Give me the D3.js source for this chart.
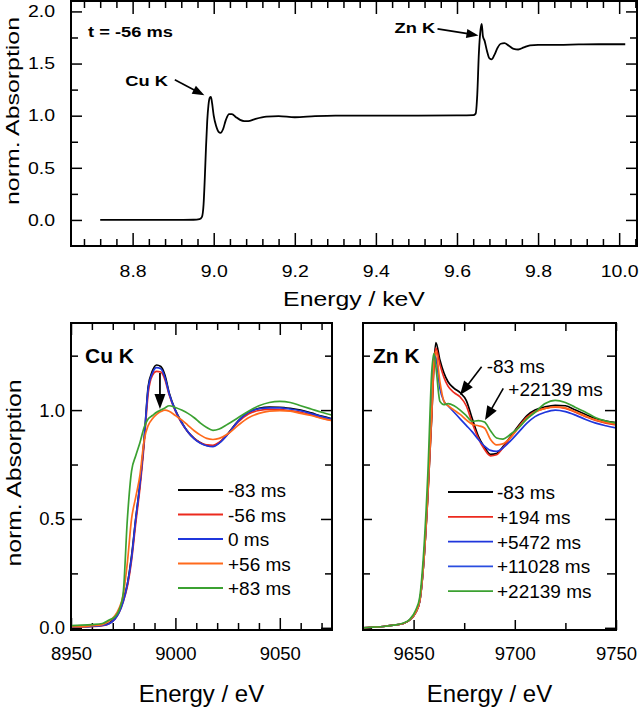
<!DOCTYPE html>
<html><head><meta charset="utf-8">
<script src="https://cdn.jsdelivr.net/npm/d3@7"></script>
<style>
body{margin:0;background:#fff}
svg{display:block}
</style>
</head><body>
<svg id="c" width="640" height="709"></svg>
<script>
// ---------------- DATA ----------------
// top panel: t = -56 ms, full spectrum (keV)
const topEnergy = [8.72, 8.80, 8.90, 8.95, 8.965, 8.971, 8.975, 8.978, 8.981, 8.984, 8.987, 8.990, 8.993, 8.996, 9.000, 9.006, 9.012, 9.017, 9.023, 9.030, 9.038, 9.045, 9.055, 9.065, 9.075, 9.085, 9.10, 9.13, 9.16, 9.20, 9.25, 9.30, 9.40, 9.50, 9.60, 9.640, 9.646, 9.650, 9.654, 9.658, 9.661, 9.664, 9.668, 9.674, 9.680, 9.686, 9.692, 9.700, 9.708, 9.717, 9.728, 9.740, 9.751, 9.765, 9.780, 9.80, 9.85, 9.90, 9.95, 10.0, 10.015];
const topAbs = [0.0, 0.0, 0.0, 0.002, 0.008, 0.03, 0.15, 0.4, 0.7, 0.95, 1.1, 1.17, 1.18, 1.12, 1.0, 0.9, 0.845, 0.835, 0.87, 0.96, 1.015, 1.015, 0.985, 0.96, 0.948, 0.948, 0.965, 0.99, 0.995, 0.985, 0.995, 1.0, 1.0, 1.0, 1.002, 1.005, 1.02, 1.2, 1.6, 1.82, 1.88, 1.76, 1.72, 1.62, 1.55, 1.54, 1.58, 1.65, 1.69, 1.695, 1.67, 1.64, 1.635, 1.655, 1.675, 1.68, 1.68, 1.683, 1.685, 1.685, 1.685];
const topXTicks = [8.8, 9.0, 9.2, 9.4, 9.6, 9.8, 10.0];
const topYTicks = [0.0, 0.5, 1.0, 1.5, 2.0];

// Cu K edge (eV)
const cuEnergy = [8950, 8955, 8960, 8965, 8968, 8971, 8973, 8975, 8977, 8979, 8981, 8983, 8985, 8987, 8989, 8991, 8993, 8995, 8997, 9000, 9003, 9006, 9009, 9012, 9015, 9018, 9021, 9025, 9030, 9035, 9040, 9045, 9050, 9055, 9060, 9065, 9070, 9075];
const cuM83 = [0.005, 0.005, 0.008, 0.012, 0.02, 0.045, 0.075, 0.13, 0.2, 0.33, 0.5, 0.66, 0.86, 1.11, 1.18, 1.207, 1.2, 1.16, 1.08, 1.0, 0.945, 0.9, 0.87, 0.85, 0.838, 0.835, 0.85, 0.89, 0.95, 0.99, 1.008, 1.014, 1.013, 1.008, 1.0, 0.987, 0.972, 0.96];
const cuM56 = [0.004, 0.004, 0.006, 0.01, 0.018, 0.04, 0.07, 0.12, 0.19, 0.31, 0.48, 0.64, 0.84, 1.08, 1.16, 1.178, 1.175, 1.14, 1.07, 0.995, 0.94, 0.9, 0.87, 0.85, 0.84, 0.838, 0.852, 0.888, 0.945, 0.982, 0.998, 1.003, 1.002, 0.997, 0.99, 0.978, 0.964, 0.952];
const cu0 = [0.004, 0.005, 0.007, 0.011, 0.018, 0.04, 0.07, 0.12, 0.2, 0.32, 0.5, 0.66, 0.86, 1.1, 1.17, 1.195, 1.19, 1.15, 1.075, 0.998, 0.942, 0.9, 0.868, 0.848, 0.836, 0.832, 0.848, 0.888, 0.948, 0.99, 1.006, 1.01, 1.01, 1.005, 0.997, 0.984, 0.97, 0.958];
const cuP56 = [0.005, 0.005, 0.01, 0.015, 0.03, 0.055, 0.09, 0.15, 0.3, 0.5, 0.6, 0.7, 0.86, 0.93, 0.96, 0.98, 0.993, 1.0, 0.995, 0.975, 0.955, 0.93, 0.905, 0.885, 0.87, 0.865, 0.87, 0.89, 0.93, 0.965, 0.985, 0.995, 0.998, 0.995, 0.985, 0.975, 0.962, 0.952];
const cuP83 = [0.01, 0.012, 0.015, 0.02, 0.035, 0.05, 0.08, 0.16, 0.5, 0.72, 0.79, 0.85, 0.92, 0.96, 0.975, 0.99, 1.0, 1.01, 1.02, 1.012, 1.0, 0.985, 0.965, 0.94, 0.92, 0.907, 0.913, 0.935, 0.965, 0.995, 1.02, 1.035, 1.04, 1.035, 1.02, 1.005, 0.99, 0.977];
const cuLabels = ["-83 ms", "-56 ms", "0 ms", "+56 ms", "+83 ms"];
const cuXTicks = [8950, 9000, 9050];

// Zn K edge (eV)
const znEnergy = [9625, 9630, 9635, 9640, 9645, 9648, 9651, 9653, 9655, 9657, 9659, 9660, 9661, 9663, 9665, 9667, 9670, 9673, 9676, 9679, 9682, 9685, 9688, 9691, 9694, 9698, 9702, 9706, 9710, 9715, 9720, 9725, 9730, 9735, 9740, 9745, 9750];
const znM83 = [0.0, 0.003, 0.006, 0.012, 0.02, 0.035, 0.07, 0.12, 0.3, 0.6, 0.98, 1.2, 1.31, 1.23, 1.17, 1.13, 1.1, 1.08, 1.045, 0.96, 0.88, 0.83, 0.797, 0.8, 0.83, 0.88, 0.93, 0.975, 1.0, 1.015, 1.022, 1.02, 1.0, 0.98, 0.96, 0.95, 0.943];
const znP194 = [0.0, 0.003, 0.006, 0.012, 0.02, 0.035, 0.07, 0.12, 0.3, 0.6, 0.98, 1.19, 1.285, 1.21, 1.15, 1.11, 1.08, 1.06, 1.02, 0.94, 0.87, 0.82, 0.79, 0.795, 0.825, 0.875, 0.925, 0.968, 0.993, 1.008, 1.013, 1.008, 0.99, 0.97, 0.952, 0.94, 0.932];
const znP5472 = [0.0, 0.003, 0.006, 0.012, 0.02, 0.035, 0.07, 0.12, 0.3, 0.62, 1.03, 1.25, 1.24, 1.1, 1.04, 1.02, 0.99, 0.96, 0.93, 0.9, 0.865, 0.835, 0.815, 0.81, 0.825, 0.86, 0.9, 0.94, 0.97, 0.99, 1.0, 0.993, 0.977, 0.957, 0.94, 0.928, 0.918];
const znP11028 = [0.0, 0.003, 0.006, 0.012, 0.02, 0.035, 0.07, 0.12, 0.3, 0.61, 1.0, 1.22, 1.27, 1.13, 1.04, 1.02, 1.0, 0.98, 0.955, 0.935, 0.928, 0.918, 0.865, 0.84, 0.845, 0.875, 0.92, 0.962, 0.99, 1.008, 1.015, 1.01, 0.992, 0.972, 0.955, 0.943, 0.935];
const znP22139 = [0.0, 0.003, 0.006, 0.012, 0.022, 0.038, 0.08, 0.14, 0.35, 0.7, 1.18, 1.26, 1.2, 1.04, 1.025, 1.03, 1.02, 1.0, 0.975, 0.948, 0.952, 0.945, 0.905, 0.872, 0.867, 0.89, 0.92, 0.96, 0.99, 1.03, 1.045, 1.035, 1.012, 0.99, 0.965, 0.95, 0.94];
const znLabels = ["-83 ms", "+194 ms", "+5472 ms", "+11028 ms", "+22139 ms"];
const znXTicks = [9650, 9700, 9750];
const bottomYTicks = [0.0, 0.5, 1.0];

// ---------------- STYLE ----------------
const FONT = '"Liberation Sans", Arial, Helvetica, sans-serif';
const cuColors = ["#000000", "#ec2a1e", "#1f36dc", "#ff6a1c", "#3ba131"];
const znColors = ["#000000", "#ec2a1e", "#1f36dc", "#ff6a1c", "#3ba131"];
const znLegendColors = ["#000000", "#ec2a1e", "#1f36dc", "#2a4de0", "#3ba131"];

const svg = d3.select("#c");
svg.append("rect").attr("width", 640).attr("height", 709).attr("fill", "#fff");

function addAxis(g, axisFn, scale, tr, vals, len, showLabels, fmt, pad, fs, sx) {
  const a = axisFn(scale).tickValues(vals).tickSizeInner(-len).tickSizeOuter(0)
    .tickPadding(pad).tickFormat(showLabels ? fmt : () => "");
  const s = g.append("g").attr("transform", tr).call(a);
  s.select(".domain").remove();
  s.selectAll("line").attr("stroke", "#000").attr("stroke-width", 1.5);
  s.selectAll("text").attr("font-size", fs).attr("font-family", FONT).attr("fill", "#000");
  if (sx && sx !== 1) {
    s.selectAll("text").each(function () {
      const t = d3.select(this);
      const xv = +t.attr("x") || 0;
      t.attr("x", xv / sx).attr("transform", `scale(${sx},1)`);
    });
  }
  return s;
}

function label(g, x, y, txt, o) {
  o = o || {};
  const sx = o.sx || 1;
  const t = g.append("text")
    .attr("transform", `translate(${x},${y}) rotate(${o.rot || 0}) scale(${sx},1)`)
    .attr("font-family", FONT).attr("font-size", o.size || 16)
    .attr("font-weight", o.weight || "normal")
    .attr("text-anchor", o.anchor || "start").attr("fill", "#000").text(txt);
  if (o.len) t.attr("textLength", o.len).attr("lengthAdjust", "spacingAndGlyphs");
  return t;
}

function arrow(g, x1, y1, x2, y2, hl, hw, sw) {
  const dx = x2 - x1, dy = y2 - y1, L = Math.hypot(dx, dy);
  const ux = dx / L, uy = dy / L;
  const bx = x2 - ux * hl, by = y2 - uy * hl;
  g.append("line").attr("x1", x1).attr("y1", y1).attr("x2", bx + ux * 1).attr("y2", by + uy * 1)
    .attr("stroke", "#000").attr("stroke-width", sw || 1.6);
  const px = -uy, py = ux;
  g.append("path").attr("d", `M${x2},${y2}L${bx + px * hw / 2},${by + py * hw / 2}L${bx - px * hw / 2},${by - py * hw / 2}Z`)
    .attr("fill", "#000");
}

// ---------------- TOP PANEL ----------------
const SXT = 1.18;
const xT = d3.scaleLinear().domain([8.648, 10.044]).range([71, 637]);
const yT = d3.scaleLinear().domain([-0.25, 2.1]).range([246, 1]);
const gT = svg.append("g");
{
  const xMinor = d3.range(8.68, 10.045, 0.04).filter(v => !topXTicks.some(m => Math.abs(m - v) < 1e-6));
  const yMinor = [0.25, 0.75, 1.25, 1.75];
  addAxis(gT, d3.axisBottom, xT, `translate(0,246)`, topXTicks, 13, true, d3.format(".1f"), 19.5, 16.5, SXT);
  addAxis(gT, d3.axisBottom, xT, `translate(0,246)`, xMinor, 7, false, null, 3, 16, 1);
  addAxis(gT, d3.axisTop, xT, `translate(0,1)`, topXTicks, 13, false, null, 3, 16, 1);
  addAxis(gT, d3.axisTop, xT, `translate(0,1)`, xMinor, 7, false, null, 3, 16, 1);
  addAxis(gT, d3.axisLeft, yT, `translate(71,0)`, topYTicks, 11, true, d3.format(".1f"), 16, 16.5, SXT);
  addAxis(gT, d3.axisLeft, yT, `translate(71,0)`, yMinor, 7, false, null, 3, 16, 1);
  addAxis(gT, d3.axisRight, yT, `translate(637,0)`, topYTicks, 11, false, null, 3, 16, 1);
  addAxis(gT, d3.axisRight, yT, `translate(637,0)`, yMinor, 7, false, null, 3, 16, 1);

  const pts = topEnergy.map((e, i) => [e, topAbs[i]]);
  gT.append("path").datum(pts)
    .attr("d", d3.line().x(d => xT(d[0])).y(d => yT(d[1])).curve(d3.curveMonotoneX))
    .attr("fill", "none").attr("stroke", "#000").attr("stroke-width", 1.8);

  gT.append("rect").attr("x", 71).attr("y", 1).attr("width", 566).attr("height", 245)
    .attr("fill", "none").attr("stroke", "#000").attr("stroke-width", 2);

  label(gT, xT(8.69), yT(1.75), "t = -56 ms", { size: 15.5, weight: "bold", sx: SXT });
  label(gT, xT(8.887), yT(1.28), "Cu K", { size: 15.5, weight: "bold", anchor: "end", sx: SXT });
  arrow(gT, xT(8.904), yT(1.345), xT(8.977), yT(1.195), 12, 9, 1.6);
  label(gT, xT(9.546), yT(1.79), "Zn K", { size: 15.5, weight: "bold", anchor: "end", sx: SXT });
  arrow(gT, xT(9.552), yT(1.833), xT(9.653), yT(1.77), 12, 9, 1.6);

  label(gT, 354, 306, "Energy / keV", { size: 21, anchor: "middle", sx: SXT });
  label(gT, 19, 111, "norm. Absorption", { size: 19, anchor: "middle", rot: -90, len: 188 });
}

// ---------------- BOTTOM PANELS ----------------
const yB = d3.scaleLinear().domain([-0.01, 1.4]).range([630, 323]);
const yBMinor = [0.25, 0.75, 1.25];
const lineGen = (x) => d3.line().x(d => x(d[0])).y(d => yB(d[1])).curve(d3.curveMonotoneX);

// Cu panel
const xC = d3.scaleLinear().domain([8950, 9075]).range([71, 332]);
const gC = svg.append("g");
{
  const xMinor = d3.range(8960, 9075, 10).filter(v => !cuXTicks.includes(v));
  addAxis(gC, d3.axisBottom, xC, `translate(0,630)`, cuXTicks, 12, true, d3.format("d"), 17, 18.5, 1);
  addAxis(gC, d3.axisBottom, xC, `translate(0,630)`, xMinor, 7, false, null, 3, 16, 1);
  addAxis(gC, d3.axisTop, xC, `translate(0,323)`, cuXTicks, 12, false, null, 3, 16, 1);
  addAxis(gC, d3.axisTop, xC, `translate(0,323)`, xMinor, 7, false, null, 3, 16, 1);
  addAxis(gC, d3.axisLeft, yB, `translate(71,0)`, bottomYTicks, 11, true, d3.format(".1f"), 6, 18.5, 1);
  addAxis(gC, d3.axisLeft, yB, `translate(71,0)`, yBMinor, 7, false, null, 3, 16, 1);
  addAxis(gC, d3.axisRight, yB, `translate(332,0)`, bottomYTicks, 11, false, null, 3, 16, 1);
  addAxis(gC, d3.axisRight, yB, `translate(332,0)`, yBMinor, 7, false, null, 3, 16, 1);

  const series = [cuM83, cuM56, cu0, cuP56, cuP83];
  gC.append("clipPath").attr("id", "clipC").append("rect")
    .attr("x", 71).attr("y", 323).attr("width", 261).attr("height", 307);
  const gl = gC.append("g").attr("clip-path", "url(#clipC)");
  series.forEach((s, k) => {
    gl.append("path").datum(cuEnergy.map((e, i) => [e, s[i]]))
      .attr("d", lineGen(xC)).attr("fill", "none").attr("stroke", cuColors[k]).attr("stroke-width", 1.7);
  });
  gC.append("rect").attr("x", 71).attr("y", 323).attr("width", 261).attr("height", 307)
    .attr("fill", "none").attr("stroke", "#000").attr("stroke-width", 2);

  // legend
  cuLabels.forEach((lab, k) => {
    const yy = 490 + k * 24.5;
    gC.append("line").attr("x1", 178).attr("x2", 223).attr("y1", yy).attr("y2", yy)
      .attr("stroke", cuColors[k]).attr("stroke-width", 1.8);
    label(gC, 228, yy + 7, lab, { size: 19 });
  });
  label(gC, 85, 363, "Cu K", { size: 21, weight: "bold" });
  arrow(gC, xC(8992.6), yB(1.17), xC(8992.6), yB(1.005), 15, 11, 1.8);

  label(gC, 201.5, 702, "Energy / eV", { size: 24, anchor: "middle" });
  label(gC, 21, 473, "norm. Absorption", { size: 20, anchor: "middle", rot: -90, len: 187 });
}

// Zn panel
const xZ = d3.scaleLinear().domain([9625, 9750]).range([363, 616]);
const gZ = svg.append("g");
{
  const xMinor = [9675, 9725];
  addAxis(gZ, d3.axisBottom, xZ, `translate(0,630)`, znXTicks, 10, true, d3.format("d"), 17, 18.5, 1);
  addAxis(gZ, d3.axisBottom, xZ, `translate(0,630)`, xMinor, 7, false, null, 3, 16, 1);
  addAxis(gZ, d3.axisTop, xZ, `translate(0,323)`, znXTicks, 8, false, null, 3, 16, 1);
  addAxis(gZ, d3.axisTop, xZ, `translate(0,323)`, xMinor, 8, false, null, 3, 16, 1);
  addAxis(gZ, d3.axisLeft, yB, `translate(363,0)`, bottomYTicks, 9, false, null, 3, 16, 1);
  addAxis(gZ, d3.axisLeft, yB, `translate(363,0)`, yBMinor, 7, false, null, 3, 16, 1);
  addAxis(gZ, d3.axisRight, yB, `translate(616,0)`, bottomYTicks, 11, false, null, 3, 16, 1);
  addAxis(gZ, d3.axisRight, yB, `translate(616,0)`, yBMinor, 9, false, null, 3, 16, 1);

  const series = [znM83, znP194, znP5472, znP11028, znP22139];
  gZ.append("clipPath").attr("id", "clipZ").append("rect")
    .attr("x", 363).attr("y", 323).attr("width", 253).attr("height", 307);
  const gl = gZ.append("g").attr("clip-path", "url(#clipZ)");
  series.forEach((s, k) => {
    gl.append("path").datum(znEnergy.map((e, i) => [e, s[i]]))
      .attr("d", lineGen(xZ)).attr("fill", "none").attr("stroke", znColors[k]).attr("stroke-width", 1.7);
  });
  gZ.append("rect").attr("x", 363).attr("y", 323).attr("width", 253).attr("height", 307)
    .attr("fill", "none").attr("stroke", "#000").attr("stroke-width", 2);

  znLabels.forEach((lab, k) => {
    const yy = 492 + k * 24.8;
    gZ.append("line").attr("x1", 448).attr("x2", 493).attr("y1", yy).attr("y2", yy)
      .attr("stroke", znLegendColors[k]).attr("stroke-width", 1.8);
    label(gZ, 497, yy + 7, lab, { size: 19 });
  });
  label(gZ, 373, 363, "Zn K", { size: 21, weight: "bold" });
  label(gZ, xZ(9686.1), yB(1.171), "-83 ms", { size: 19 });
  label(gZ, xZ(9696.8), yB(1.064), "+22139 ms", { size: 19 });
  arrow(gZ, xZ(9683.6), yB(1.199), xZ(9672.9), yB(1.069), 14, 11, 1.6);
  arrow(gZ, xZ(9694.3), yB(1.10), xZ(9685.3), yB(0.954), 14, 11, 1.6);

  label(gZ, 489.5, 702, "Energy / eV", { size: 24, anchor: "middle" });
}
</script>
</body></html>
